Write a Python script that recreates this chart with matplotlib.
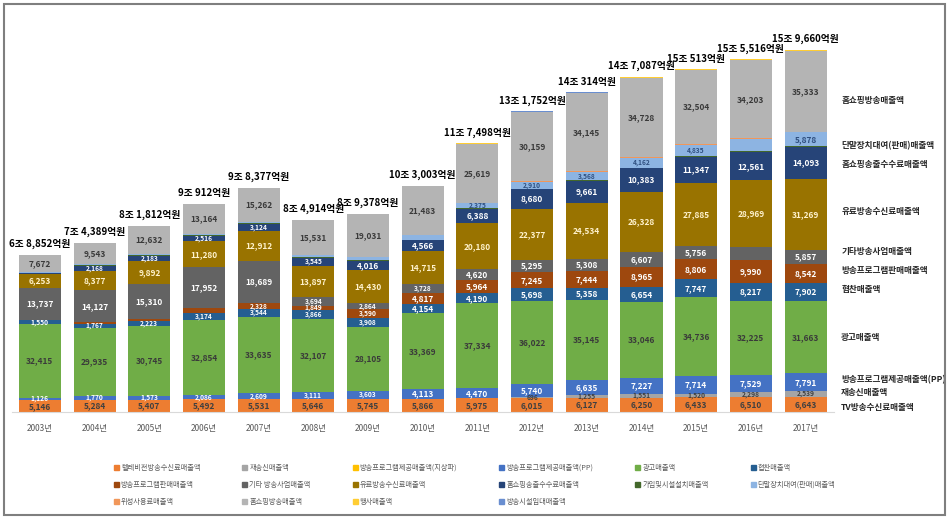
import matplotlib
matplotlib.use('Agg')
import matplotlib.pyplot as plt
from matplotlib.patches import Patch, Rectangle

plt.rcParams['font.family'] = ['Noto Sans CJK KR', 'DejaVu Sans']

years = ['2003년', '2004년', '2005년', '2006년', '2007년', '2008년', '2009년', '2010년',
         '2011년', '2012년', '2013년', '2014년', '2015년', '2016년', '2017년']
totals = ['6조 8,852억원', '7조 4,389억원', '8조 1,812억원', '9조 912억원', '9조 8,377억원',
          '8조 4,914억원', '8조 9,378억원', '10조 3,003억원', '11조 7,498억원', '13조 1,752억원',
          '14조 314억원', '14조 7,087억원', '15조 513억원', '15조 5,516억원', '15조 9,660억원']

# 억원
tv_fee   = [5146, 5284, 5407, 5492, 5531, 5646, 5745, 5866, 5975, 6015, 6127, 6250, 6433, 6510, 6643]
retrans  = [0, 0, 0, 0, 0, 0, 0, 0, 0, 696, 1255, 1551, 1520, 2298, 2539]
prog_gt  = [0, 0, 0, 0, 0, 0, 0, 0, 0, 0, 0, 0, 0, 0, 0]
prog_pp  = [1126, 1770, 1573, 2086, 2609, 3111, 3603, 4113, 4470, 5740, 6635, 7227, 7714, 7529, 7791]
ad       = [32415, 29935, 30745, 32854, 33635, 32107, 28105, 33369, 37334, 36022, 35145, 33046, 34736, 32225, 31663]
sponsor  = [1550, 1767, 2223, 3174, 3544, 3866, 3908, 4154, 4190, 5698, 5358, 6654, 7747, 8217, 7902]
prog_sale = [300, 600, 900, 2000, 2328, 1849, 3590, 4817, 5964, 7245, 7444, 8965, 8806, 9990, 8542]
etc_biz  = [13737, 14127, 15310, 17952, 18689, 3694, 2864, 3728, 4620, 5295, 5308, 6607, 5756, 5800, 5857]
pay_fee  = [6253, 8377, 9892, 11280, 12912, 13897, 14430, 14715, 20180, 22377, 24534, 26328, 27885, 28969, 31269]
hs_fee   = [300, 2168, 2183, 2516, 3124, 3545, 4016, 4566, 6388, 8680, 9661, 10383, 11347, 12561, 14093]
install  = [200, 300, 400, 400, 300, 200, 200, 200, 200, 200, 200, 200, 300, 400, 400]
device   = [300, 400, 500, 400, 500, 900, 1500, 2000, 2375, 2910, 3568, 4162, 4835, 5100, 5878]
sat_fee  = [0, 0, 0, 0, 0, 0, 0, 100, 150, 400, 400, 400, 400, 400, 400]
hs_sales = [7672, 9543, 12632, 13164, 15262, 15531, 19031, 21483, 25619, 30159, 34145, 34728, 32504, 34203, 35333]
event    = [0, 0, 0, 0, 0, 0, 0, 200, 300, 300, 300, 300, 300, 400, 400]
facility = [0, 0, 0, 0, 0, 0, 0, 0, 100, 100, 100, 100, 100, 100, 100]

# legend name, values, colour, value label colour, name at right side
series = [
    ('텔레비전방송수신료매출액', tv_fee, '#ED7D31', '#404040', 'TV방송수신료매출액'),
    ('재송신매출액', retrans, '#A5A5A5', '#404040', '재송신매출액'),
    ('방송프로그램제공매출액(지상파)', prog_gt, '#FFC000', None, None),
    ('방송프로그램제공매출액(PP)', prog_pp, '#4472C4', 'white', '방송프로그램제공매출액(PP)'),
    ('광고매출액', ad, '#70AD47', '#3A3A3A', '광고매출액'),
    ('협찬매출액', sponsor, '#255E91', 'white', '협찬매출액'),
    ('방송프로그램판매매출액', prog_sale, '#9E480E', 'white', '방송프로그램판매매출액'),
    ('기타 방송사업매출액', etc_biz, '#636363', 'white', '기타방송사업매출액'),
    ('유료방송수신료매출액', pay_fee, '#997300', '#FFF2CC', '유료방송수신료매출액'),
    ('홈쇼핑송출수수료매출액', hs_fee, '#264478', 'white', '홈쇼핑송출수수료매출액'),
    ('가입및시설설치매출액', install, '#43682B', None, None),
    ('단말장치대여(판매)매출액', device, '#8DB4E2', '#2F4F7F', '단말장치대여(판매)매출액'),
    ('위성사용료매출액', sat_fee, '#F1975A', None, None),
    ('홈쇼핑방송매출액', hs_sales, '#B4B4B4', '#3A3A3A', '홈쇼핑방송매출액'),
    ('행사매출액', event, '#FFCD33', None, None),
    ('방송시설임대매출액', facility, '#698ED0', None, None),
]

# segments drawn without a number in the original
hidden = {
    '방송프로그램판매매출액': [0, 1, 2, 3],
    '기타 방송사업매출액': [13],
    '단말장치대여(판매)매출액': [0, 1, 2, 3, 4, 5, 6, 7, 13],
    '홈쇼핑송출수수료매출액': [0],
}

# nudges (points, + = up) for names at the right side
nudge = {'TV방송수신료매출액': -2, '재송신매출액': 1, '방송프로그램제공매출액(PP)': 1.5,
         '협찬매출액': 1.5, '방송프로그램판매매출액': 2, '기타방송사업매출액': 4,
         '유료방송수신료매출액': 2, '홈쇼핑송출수수료매출액': -1.5,
         '단말장치대여(판매)매출액': -4.5, '홈쇼핑방송매출액': -6.5}

fig = plt.figure(figsize=(9.49, 5.19), dpi=100)
ax = fig.add_axes([12 / 949, 107 / 519, 822 / 949, 392 / 519])

x = list(range(len(years)))
bottom = [0] * len(years)
handles = []
for name, vals, color, tcolor, rname in series:
    ax.bar(x, vals, 0.77, bottom=bottom, color=color, linewidth=0)
    handles.append(Patch(color=color, label=name))
    if tcolor is not None:
        for i in x:
            v = vals[i]
            if v <= 0 or i in hidden.get(name, []):
                continue
            small = v < 4000 or (name.startswith('단말') and v < 5000)
            ax.text(i, bottom[i] + v / 2, f'{v:,}', ha='center', va='center',
                    fontsize=4.8 if small else 6, color=tcolor, fontweight='bold')
        last = len(years) - 1
        ax.annotate(rname, (last + 0.5, bottom[last] + vals[last] / 2),
                    xytext=(6, nudge.get(rname, 0)), textcoords='offset points',
                    ha='left', va='center', fontsize=6.2, fontweight='bold',
                    color='#262626', annotation_clip=False)
    bottom = [b + v for b, v in zip(bottom, vals)]

for i in x:
    ax.annotate(totals[i], (i, bottom[i]), xytext=(0, 4), textcoords='offset points',
                ha='center', va='bottom', fontsize=7, fontweight='bold', color='black')

ax.set_xlim(-0.51, 14.52)
ax.set_ylim(0, 171900)
ax.set_xticks(x)
ax.set_xticklabels(years, fontsize=6, color='#595959')
ax.tick_params(axis='x', length=0, pad=9)
ax.set_yticks([])
for s in ['top', 'right', 'left']:
    ax.spines[s].set_visible(False)
ax.spines['bottom'].set_color('#D9D9D9')

# legend: fill row by row in 6 columns
order = [0, 6, 12, 1, 7, 13, 2, 8, 14, 3, 9, 15, 4, 10, 5, 11]
fig.legend([handles[k] for k in order], [series[k][0] for k in order],
           loc='upper left', bbox_to_anchor=(110 / 949, 1 - 460 / 519), ncol=6,
           frameon=False, fontsize=5.2, labelcolor='#595959',
           handlelength=0.7, handleheight=0.7, handletextpad=0.3,
           columnspacing=5.8, labelspacing=1.25, borderpad=0)

fig.patches.append(Rectangle((4 / 949, 4 / 519), 941 / 949, 511 / 519,
                             transform=fig.transFigure, fill=False,
                             edgecolor='#7F7F7F', linewidth=1.5))

plt.savefig('out.png', dpi=100)
